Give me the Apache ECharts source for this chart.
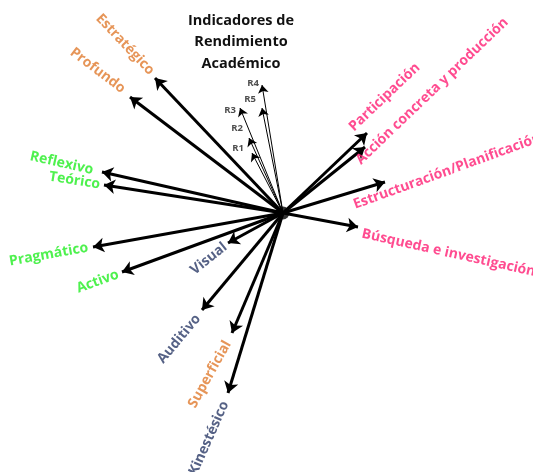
<!DOCTYPE html>
<html>
<head>
<meta charset="utf-8">
<script src="https://cdn.jsdelivr.net/npm/echarts@6/dist/echarts.min.js"></script>
<style>html,body{margin:0;padding:0;background:#fff}#c{width:533px;height:472px}</style>
</head>
<body>
<div id="c"></div>
<script>
// Variables (arrow tips, biplot coordinates)
const names = ['Estratégico','Profundo','Reflexivo','Teórico','Pragmático','Activo','Visual','Auditivo','Superficial','Kinestésico',
  'Participación','Acción concreta y producción','Estructuración/Planificación','Búsqueda e investigación'];
const xs = [-1.28,-1.53,-1.81,-1.79,-1.90,-1.61,-0.55,-0.81,-0.51,-0.55, 0.84, 0.82, 1.02, 0.75];
const ys = [ 1.35, 1.16, 0.41, 0.28,-0.34,-0.59,-0.30,-0.97,-1.20,-1.80, 0.80, 0.66, 0.31,-0.14];
const groups = ['prof','prof','estilo','estilo','estilo','estilo','sens','sens','prof','sens','estr','estr','estr','estr'];

// Rendimiento académico indicators
const rNames = ['R1','R2','R3','R4','R5'];
const rXs = [-0.31,-0.34,-0.43,-0.21,-0.21];
const rYs = [ 0.60, 0.75, 1.05, 1.28, 1.05];

const titleText = 'Indicadores de\nRendimiento\nAcadémico';

// ---- styling / label placement (pixels, degrees) ----
const colors = {prof:'#E07A2E', estilo:'#22EE22', sens:'#2B3A67', estr:'#FF1F74'};
const FONT = 'Open Sans';
const PX = 100; // pixels per data unit (both axes)
const labelNudge = {
  'Estratégico':[-1,-3], 'Profundo':[-4,-5], 'Reflexivo':[-6,-1], 'Teórico':[-1,0],
  'Pragmático':[-2,0], 'Activo':[-1,1], 'Visual':[0,1], 'Auditivo':[-2,4],
  'Superficial':[-3,6], 'Kinestésico':[-2,6],
  'Participación':[-18,-2], 'Acción concreta y producción':[-9,17],
  'Estructuración/Planificación':[-34,24], 'Búsqueda e investigación':[1,6]
};
const rotNudge = {'Visual':10, 'Superficial':-6, 'Kinestésico':-7,
  'Acción concreta y producción':5, 'Estructuración/Planificación':3, 'Búsqueda e investigación':-2};
const rOffsets = {R1:[-8,-5], R2:[-6,-10], R3:[-4,2], R4:[-3,-2], R5:[-6,-9]};

const lineData = xs.map((x,i)=>({coords:[[0,0],[x,ys[i]]]}));
const rLineData = rXs.map((x,i)=>({coords:[[0,0],[x,rYs[i]]]}));

const labelData = names.map((n,i)=>{
  const x = xs[i], y = ys[i];
  const L = Math.sqrt(x*x+y*y);
  const ux = x/L, uy = y/L;
  const th = Math.atan2(y,x)*180/Math.PI;
  const left = x < 0;
  const gap = 3/PX;
  const nd = labelNudge[n] || [0,0];
  return {
    name: n,
    value: [x+ux*gap + nd[0]/PX, y+uy*gap - nd[1]/PX],
    label: {
      rotate: (left ? th-180 : th) + (rotNudge[n] || 0),
      align: left ? 'right' : 'left',
      color: colors[groups[i]]
    }
  };
});

const rLabelData = rNames.map((n,i)=>({name:n, value:[rXs[i], rYs[i]], label:{offset:rOffsets[n]}}));

const chart = echarts.init(document.getElementById('c'));
chart.setOption({
  animation:false,
  backgroundColor:'#fff',
  grid:{left:0,right:0,top:0,bottom:0},
  xAxis:{type:'value',min:-2.83,max:2.50,show:false},
  yAxis:{type:'value',min:-2.59,max:2.13,show:false},
  graphic:[{
    type:'text', x:241, y:10, z:100,
    style:{text:titleText, fontFamily:FONT, fontWeight:'bold', fontSize:14.5, fill:'#111', align:'center', verticalAlign:'top', lineHeight:21.5}
  }],
  series:[
    {type:'lines', coordinateSystem:'cartesian2d', data:lineData, symbol:['none','arrow'], symbolSize:[0,11],
     lineStyle:{color:'#000', width:3, opacity:1}, z:3, silent:true},
    {type:'lines', coordinateSystem:'cartesian2d', data:rLineData, symbol:['none','arrow'], symbolSize:[0,8],
     lineStyle:{color:'#000', width:1, opacity:1}, z:3, silent:true},
    {type:'scatter', data:[[0,0]], symbolSize:13, itemStyle:{color:'#000'}, z:4, silent:true},
    {type:'scatter', data:labelData, symbolSize:0, z:5, silent:true,
     label:{show:true, position:'inside', verticalAlign:'middle', formatter:'{b}', fontFamily:FONT, fontWeight:'bold', fontSize:14}},
    {type:'scatter', data:rLabelData, symbolSize:0, z:5, silent:true,
     label:{show:true, position:'inside', align:'right', verticalAlign:'middle', formatter:'{b}', fontFamily:FONT, fontWeight:'bold', fontSize:9.5, color:'#222'}}
  ]
});
</script>
</body>
</html>
